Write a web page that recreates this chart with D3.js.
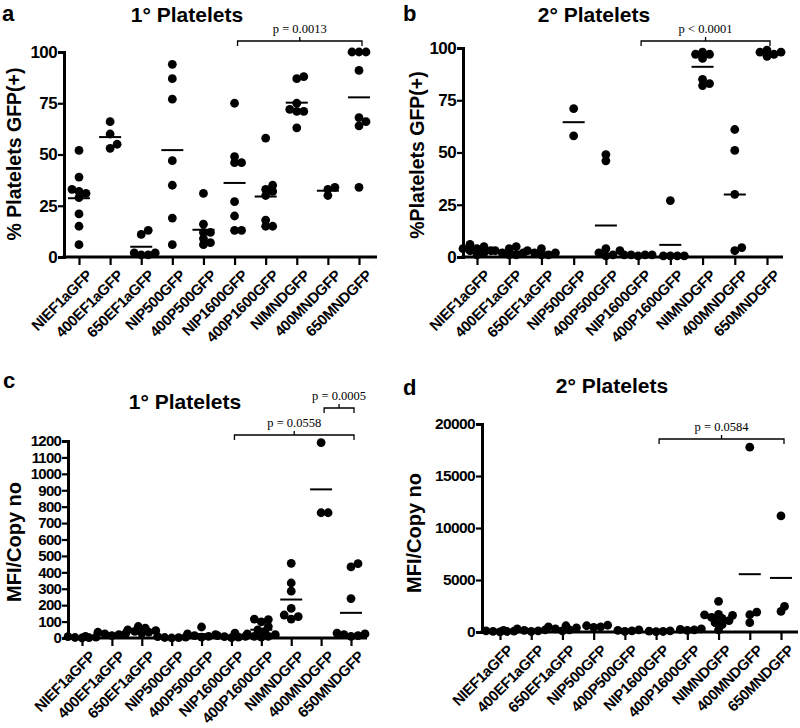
<!DOCTYPE html>
<html>
<head>
<meta charset="utf-8">
<script src="https://cdn.jsdelivr.net/npm/d3@7"></script>
<style>
  body { margin: 0; background: #fff; }
  svg text { font-family: "Liberation Sans", Arial, sans-serif; }
</style>
</head>
<body>
<div id="chart"></div>
<script>
var categories = ['NIEF1aGFP', '400EF1aGFP', '650EF1aGFP', 'NIP500GFP', '400P500GFP',
                  'NIP1600GFP', '400P1600GFP', 'NIMNDGFP', '400MNDGFP', '650MNDGFP'];

// % platelets GFP(+), primary recipients
var pctPrimary = [
    [21, 33, 52, 39, 32, 31, 29, 15, 6],
    [66, 60, 53, 55],
    [13, 11, 2, 2, 1, 1],
    [94, 87, 77, 47, 35, 19, 6],
    [16, 31, 9, 6, 7, 12, 12],
    [75, 49, 46, 46, 27, 20, 13, 13],
    [58, 33, 35, 32, 30, 18, 15, 15],
    [87, 88, 71, 75, 71, 63, 72],
    [34, 33, 30],
    [100, 100, 100, 91, 66, 68, 64, 34]
];

// % platelets GFP(+), secondary recipients
var pctSecondary = [
    [1, 2, 3, 4, 5, 6, 3, 4],
    [1, 2, 3, 4, 5, 1, 2],
    [1, 2, 3, 4, 1, 2],
    [71, 58],
    [49, 46, 4, 3, 2, 1, 0.5],
    [1, 1, 1, 0.5, 1],
    [27, 0.5, 0.5, 0.5, 0.5],
    [97, 98, 95, 85, 82, 83, 97],
    [61, 51, 30, 3, 4.5],
    [99, 98, 96, 98, 97]
];

// MFI / copy number, primary
var mfiPrimary = [
    [5, 10, 3, 0, 8, 2],
    [25, 35, 20, 30, 15],
    [40, 60, 45, 50, 35, 70, 30],
    [2, 5, 3, 0, 8],
    [67, 20, 15, 10, 25, 5],
    [30, 10, 5, 15, 2, 8],
    [115, 112, 98, 70, 40, 20, 10, 50, 25, 5, 10],
    [335, 455, 285, 180, 140, 115, 130],
    [1190, 763, 763],
    [433, 453, 240, 30, 20, 15, 10, 25]
];

// MFI / copy number, secondary
var mfiSecondary = [
    [50, 100, 150, 80, 20, 60],
    [100, 200, 300, 150, 50],
    [300, 600, 200, 400, 100, 500],
    [600, 450, 650, 500],
    [100, 200, 50, 150],
    [50, 100, 80, 30],
    [200, 300, 150, 250],
    [2950, 1650, 1600, 1700, 700, 1300, 900, 200, 1100, 1400],
    [17770, 1914, 1659, 893],
    [11164, 2456, 1978]
];

var pctTicks = [0, 25, 50, 75, 100];
var mfiPrimaryTicks = d3.range(0, 1201, 100);
var mfiSecondaryTicks = [0, 5000, 10000, 15000, 20000];

var bracketsA = [{from: 5, to: 9, label: 'p = 0.0013'}];
var bracketsB = [{from: 5, to: 9, label: 'p < 0.0001'}];
var bracketsC = [{from: 5, to: 9, label: 'p = 0.0558'}, {from: 8, to: 9, label: 'p = 0.0005'}];
var bracketsD = [{from: 5, to: 9, label: 'p = 0.0584'}];

var panels = [
    {letter: 'a', letterPos: [2, 21], title: '1° Platelets', titlePos: [187, 22],
     ylabel: '% Platelets GFP(+)', ylabelPos: [21, 154],
     values: pctPrimary, ticks: pctTicks, max: 100, tickFont: 17, tickSpacing: -0.6,
     axisX: 64, top: 52, bottom: 257, first: 79, last: 359, axisEnd: 377,
     brackets: bracketsA, bracketY: [41]},
    {letter: 'b', letterPos: [403, 21], title: '2° Platelets', titlePos: [594, 22],
     ylabel: '%Platelets GFP(+)', ylabelPos: [424, 155],
     values: pctSecondary, ticks: pctTicks, max: 100, tickFont: 17, tickSpacing: -0.6,
     axisX: 463, top: 48, bottom: 257, first: 477, last: 767, axisEnd: 783,
     brackets: bracketsB, bracketY: [41]},
    {letter: 'c', letterPos: [3, 388], title: '1° Platelets', titlePos: [185, 409],
     ylabel: 'MFI/Copy no', ylabelPos: [21, 542],
     values: mfiPrimary, ticks: mfiPrimaryTicks, max: 1200, tickFont: 15, tickSpacing: -0.8,
     axisX: 68, top: 441, bottom: 638, first: 82, last: 351, axisEnd: 367,
     brackets: bracketsC, bracketY: [435, 408]},
    {letter: 'd', letterPos: [403, 395], title: '2° Platelets', titlePos: [612, 393],
     ylabel: 'MFI/Copy no', ylabelPos: [421, 533],
     values: mfiSecondary, ticks: mfiSecondaryTicks, max: 20000, tickFont: 15.5, tickSpacing: -0.6,
     axisX: 482, top: 424, bottom: 632, first: 500, last: 781, axisEnd: 798,
     brackets: bracketsD, bracketY: [439]}
];

var W = 800, H = 728, R = 4.4;

var svg = d3.select('#chart').append('svg')
    .attr('width', W)
    .attr('height', H);

// spread points that would overlap, like a column scatter (overlap allowed past +-14px)
function swarm(vals, y) {
    var placed = [], out = [];
    var order = d3.range(vals.length).sort(function(a, b) { return vals[a] - vals[b]; });
    var cands = [0];
    for (var k = 1; k <= 4; k++) { cands.push(k * 3.5, -k * 3.5); }
    order.forEach(function(i) {
        var py = y(vals[i]);
        function gap(c) {
            return d3.min(placed, function(p) { return Math.hypot(p.dx - c, p.y - py); });
        }
        var dx = cands.find(function(c) { return !placed.length || gap(c) >= 6; });
        if (dx === undefined) {
            dx = cands[d3.maxIndex(cands, gap)];
        }
        placed.push({dx: dx, y: py});
        out[i] = {v: vals[i], dx: dx};
    });
    return out;
}

panels.forEach(function(p) {
    var g = svg.append('g');

    var x = d3.scalePoint()
        .domain(categories)
        .range([p.first, p.last]);
    var y = d3.scaleLinear()
        .domain([0, p.max])
        .range([p.bottom, p.top]);

    // y axis
    var yAxis = g.append('g')
        .attr('transform', 'translate(' + p.axisX + ',0)')
        .call(d3.axisLeft(y).tickValues(p.ticks).tickSize(6).tickPadding(1).tickFormat(d3.format('d')));
    yAxis.select('.domain').attr('stroke-width', 3);
    yAxis.selectAll('.tick line').attr('stroke-width', 2.2);
    yAxis.selectAll('.tick text')
        .attr('font-size', p.tickFont)
        .attr('font-weight', 'bold')
        .attr('letter-spacing', p.tickSpacing)
        .attr('fill', '#000');

    // x axis
    var xAxis = g.append('g')
        .attr('transform', 'translate(0,' + p.bottom + ')')
        .call(d3.axisBottom(x).tickSize(8).tickPadding(0));
    xAxis.select('.domain').remove();
    xAxis.selectAll('.tick line').attr('stroke-width', 2.2);
    xAxis.selectAll('.tick text')
        .attr('font-size', 15)
        .attr('font-weight', 'bold')
        .attr('letter-spacing', -0.4)
        .attr('fill', '#000')
        .attr('text-anchor', 'end')
        .attr('transform', 'translate(6,12) rotate(-45)')
        .attr('dy', '0.7em')
        .attr('y', 0);
    g.append('line')
        .attr('x1', p.axisX - 1.5).attr('x2', p.axisEnd)
        .attr('y1', p.bottom).attr('y2', p.bottom)
        .attr('stroke', '#000').attr('stroke-width', 3);

    // points and mean lines
    p.values.forEach(function(vals, ci) {
        var cx = x(categories[ci]);
        var pts = swarm(vals, y);
        g.selectAll(null)
            .data(pts)
            .enter().append('circle')
            .attr('cx', function(d) { return cx + d.dx; })
            .attr('cy', function(d) { return y(d.v); })
            .attr('r', R)
            .attr('fill', '#000');
        var m = d3.mean(vals);
        g.append('line')
            .attr('x1', cx - 11).attr('x2', cx + 11)
            .attr('y1', y(m)).attr('y2', y(m))
            .attr('stroke', '#000').attr('stroke-width', 2);
    });

    // significance brackets
    p.brackets.forEach(function(b, bi) {
        var by = p.bracketY[bi],
            x1 = x(categories[b.from]) + 3,
            x2 = x(categories[b.to]) + 3,
            xm = (x1 + x2) / 2;
        g.append('path')
            .attr('d', 'M' + x1 + ',' + (by + 5) + 'V' + by + 'H' + x2 + 'V' + (by + 5) +
                       'M' + xm + ',' + by + 'V' + (by - 4))
            .attr('fill', 'none')
            .attr('stroke', '#000')
            .attr('stroke-width', 1.3);
        g.append('text')
            .attr('x', xm).attr('y', by - 8)
            .attr('text-anchor', 'middle')
            .attr('font-size', 12.5)
            .style('font-family', '"Liberation Serif", "DejaVu Serif", serif')
            .text(b.label);
    });

    // labels
    g.append('text')
        .attr('x', p.letterPos[0]).attr('y', p.letterPos[1])
        .attr('font-size', 22).attr('font-weight', 'bold')
        .text(p.letter);
    g.append('text')
        .attr('x', p.titlePos[0]).attr('y', p.titlePos[1])
        .attr('text-anchor', 'middle')
        .attr('font-size', 21).attr('font-weight', 'bold')
        .text(p.title);
    g.append('text')
        .attr('transform', 'translate(' + p.ylabelPos[0] + ',' + p.ylabelPos[1] + ') rotate(-90)')
        .attr('text-anchor', 'middle')
        .attr('font-size', p.ylabel.length > 12 ? 19.5 : 20).attr('font-weight', 'bold')
        .text(p.ylabel);
});
</script>
</body>
</html>
